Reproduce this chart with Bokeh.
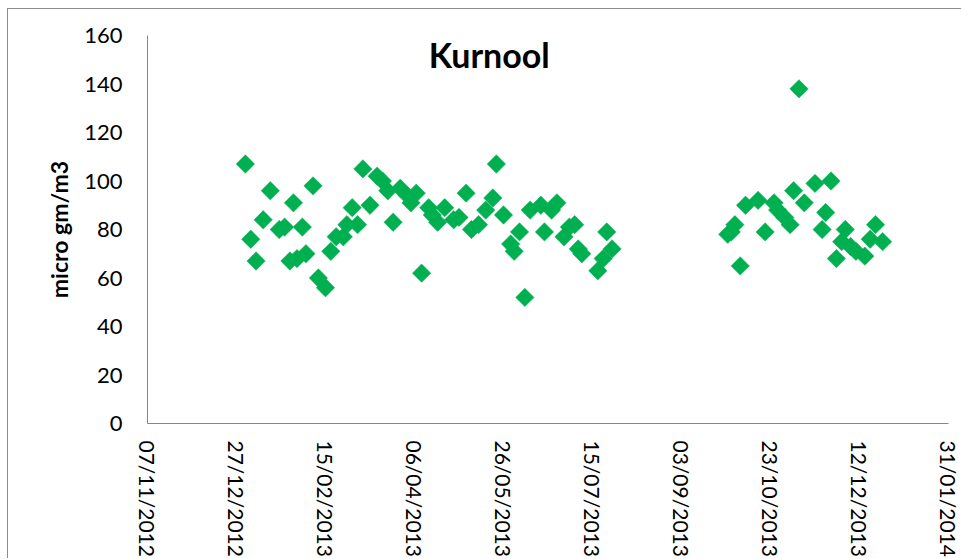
import math
import pandas as pd
from bokeh.plotting import figure
from bokeh.models import FixedTicker, Label, Range1d, ColumnDataSource
from bokeh.embed import file_html
from bokeh.resources import INLINE

title_text = "Kurnool"
y_label = "micro gm/m3"

sample_dates = [
    "2013-01-01", "2013-01-04", "2013-01-07", "2013-01-11", "2013-01-15", "2013-01-20",
    "2013-01-23", "2013-01-26", "2013-01-28", "2013-01-30", "2013-02-02", "2013-02-04",
    "2013-02-08", "2013-02-11", "2013-02-15", "2013-02-18", "2013-02-21", "2013-02-25",
    "2013-02-27", "2013-03-02", "2013-03-05", "2013-03-08", "2013-03-12", "2013-03-16",
    "2013-03-19", "2013-03-22", "2013-03-25", "2013-03-29", "2013-04-02", "2013-04-04",
    "2013-04-07", "2013-04-10", "2013-04-14", "2013-04-16", "2013-04-19", "2013-04-23",
    "2013-04-28", "2013-05-01", "2013-05-05", "2013-05-08", "2013-05-12", "2013-05-16",
    "2013-05-20", "2013-05-22", "2013-05-26", "2013-05-30", "2013-06-01", "2013-06-04",
    "2013-06-07", "2013-06-10", "2013-06-16", "2013-06-18", "2013-06-22", "2013-06-25",
    "2013-06-29", "2013-07-02", "2013-07-05", "2013-07-07", "2013-07-09", "2013-07-18",
    "2013-07-21", "2013-07-23", "2013-07-26",
    "2013-09-29", "2013-10-01", "2013-10-03", "2013-10-06", "2013-10-09", "2013-10-16",
    "2013-10-20", "2013-10-25", "2013-10-27", "2013-10-31", "2013-11-03", "2013-11-05",
    "2013-11-08", "2013-11-11", "2013-11-17", "2013-11-21", "2013-11-23", "2013-11-26",
    "2013-11-29", "2013-12-02", "2013-12-04", "2013-12-07", "2013-12-10", "2013-12-15",
    "2013-12-18", "2013-12-21", "2013-12-25",
]
pm_values = [
    107, 76, 67, 84, 96, 80,
    81, 67, 91, 68, 81, 70,
    98, 60, 56, 71, 77, 77,
    82, 89, 82, 105, 90, 102,
    100, 96, 83, 97, 94, 91,
    95, 62, 89, 86, 83, 89,
    84, 85, 95, 80, 82, 88,
    93, 107, 86, 74, 71, 79,
    52, 88, 90, 79, 88, 91,
    77, 81, 82, 72, 70, 63,
    68, 79, 72,
    78, 79, 82, 65, 90, 92,
    79, 91, 88, 85, 82, 96,
    138, 91, 99, 80, 87, 100,
    68, 75, 80, 73, 71, 69,
    76, 82, 75,
]

tick_dates = ["2012-11-07", "2012-12-27", "2013-02-15", "2013-04-06", "2013-05-26",
              "2013-07-15", "2013-09-03", "2013-10-23", "2013-12-12", "2014-01-31"]
tick_labels = ["07/11/2012", "27/12/2012", "15/02/2013", "06/04/2013", "26/05/2013",
               "15/07/2013", "03/09/2013", "23/10/2013", "12/12/2013", "31/01/2014"]
y_ticks = [0, 20, 40, 60, 80, 100, 120, 140, 160]

title_date = "2013-05-18"
title_y = 152

tick_ms = [pd.Timestamp(d).value / 1e6 for d in tick_dates]

source = ColumnDataSource(dict(x=pd.to_datetime(sample_dates), y=pm_values))

p = figure(width=954, height=550, output_backend="svg", toolbar_location=None,
           x_axis_type="datetime",
           x_range=Range1d(pd.Timestamp(tick_dates[0]), pd.Timestamp(tick_dates[-1])),
           y_range=Range1d(y_ticks[0], y_ticks[-1]),
           min_border_left=139, min_border_top=26, min_border_right=14, min_border_bottom=130)

p.scatter("x", "y", source=source, marker="square", size=13, angle=math.pi / 4,
          fill_color="#00B050", line_color="#00B050", line_width=0.5)

p.xgrid.visible = False
p.ygrid.visible = False
p.outline_line_color = None
p.background_fill_color = "white"
p.border_fill_color = "white"
p.styles = {"border-top": "1px solid #8c8c8c", "border-left": "1px solid #8c8c8c",
            "margin-left": "7px", "margin-top": "8px"}

for ax in (p.xaxis[0], p.yaxis[0]):
    ax.axis_line_color = "#868686"
    ax.axis_line_width = 1
    ax.major_tick_line_color = None
    ax.minor_tick_line_color = None
    ax.major_tick_out = 0
    ax.major_tick_in = 0
    ax.major_label_text_font = "Lato"
    ax.major_label_text_color = "#000000"

p.xaxis.ticker = FixedTicker(ticks=tick_ms)
p.xaxis.major_label_overrides = {t: l for t, l in zip(tick_ms, tick_labels)}
p.xaxis.major_label_orientation = -math.pi / 2
p.xaxis.major_label_text_font_size = "21px"
p.xaxis.major_label_standoff = 17

p.yaxis.ticker = FixedTicker(ticks=y_ticks)
p.yaxis.major_label_text_font_size = "22px"
p.yaxis.major_label_standoff = 25
p.yaxis.axis_label = y_label
p.yaxis.axis_label_text_font = "Lato"
p.yaxis.axis_label_text_font_style = "bold"
p.yaxis.axis_label_text_font_size = "23px"
p.yaxis.axis_label_text_color = "#000000"
p.yaxis.axis_label_standoff = 8

p.add_layout(Label(x=pd.Timestamp(title_date), y=title_y, text=title_text,
                   text_font="Lato", text_font_style="bold", text_font_size="34px",
                   text_align="center", text_baseline="middle", text_color="#000000"))

open("out.html", "w").write(file_html(p, INLINE))
